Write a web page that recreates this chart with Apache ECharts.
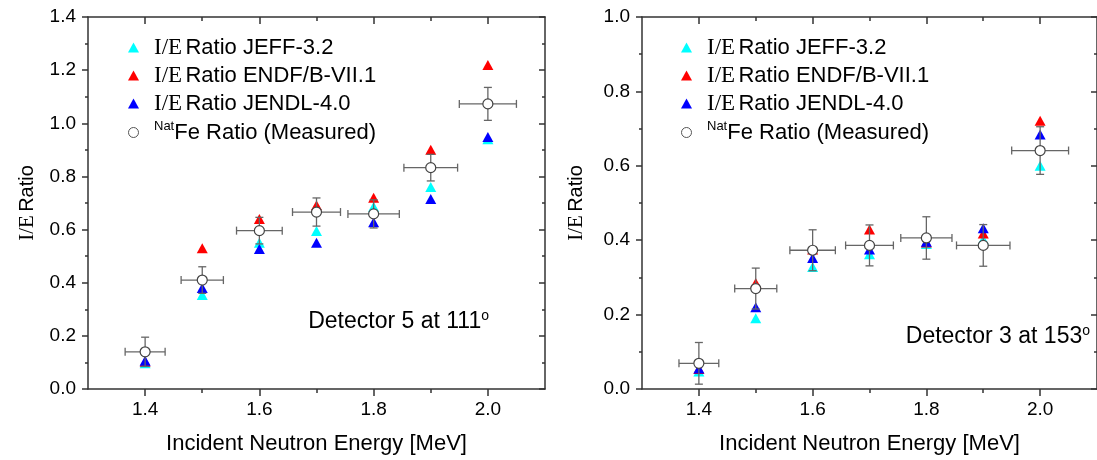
<!DOCTYPE html>
<html>
<head>
<meta charset="utf-8">
<script src="https://cdn.jsdelivr.net/npm/echarts@6/dist/echarts.min.js"></script>
<style>
  html, body { margin: 0; padding: 0; background: #fff; }
  #main { width: 1097px; height: 460px; }
</style>
</head>
<body>
<div id="main"></div>
<script>
var energy = [1.4, 1.5, 1.6, 1.7, 1.8, 1.9, 2.0];
var energyErr = [0.035, 0.037, 0.04, 0.042, 0.045, 0.047, 0.05];

// Detector 5 at 111
var det5Jeff = [0.097, 0.354, 0.55, 0.595, 0.686, 0.76, 0.94];
var det5Endf = [0.103, 0.53, 0.64, 0.692, 0.72, 0.90, 1.219];
var det5Jendl = [0.106, 0.38, 0.527, 0.55, 0.628, 0.715, 0.948];
var det5Meas = [0.14, 0.41, 0.596, 0.666, 0.659, 0.833, 1.073];
var det5MeasErr = [0.055, 0.05, 0.05, 0.053, 0.053, 0.05, 0.062];

// Detector 3 at 153
var det3Jeff = [0.047, 0.19, 0.328, 0.362, 0.39, 0.402, 0.60];
var det3Endf = [0.054, 0.285, 0.375, 0.429, 0.394, 0.418, 0.721];
var det3Jendl = [0.055, 0.22, 0.352, 0.375, 0.396, 0.432, 0.684];
var det3Meas = [0.069, 0.27, 0.373, 0.386, 0.406, 0.386, 0.641];
var det3MeasErr = [0.056, 0.055, 0.055, 0.055, 0.057, 0.056, 0.064];

var xMajor = [1.4, 1.6, 1.8, 2.0];
var xMinor = [1.5, 1.7, 1.9];

var SANS = 'Liberation Sans';
var SERIF = 'Liberation Serif';
var axisColor = '#333';

function pairs(xs, ys) {
  var out = [];
  for (var i = 0; i < xs.length; i++) out.push([xs[i], ys[i]]);
  return out;
}
function errRows(xs, ys, dxs, dys) {
  var out = [];
  for (var i = 0; i < xs.length; i++) out.push([xs[i], ys[i], dxs[i], dys[i]]);
  return out;
}

function renderErr(params, api) {
  var x = api.value(0), y = api.value(1), dx = api.value(2), dy = api.value(3);
  var l = api.coord([x - dx, y]);
  var r = api.coord([x + dx, y]);
  var t = api.coord([x, y + dy]);
  var b = api.coord([x, y - dy]);
  var cap = 4;
  var st = { stroke: '#666', lineWidth: 1.3 };
  return {
    type: 'group',
    children: [
      { type: 'line', shape: { x1: l[0], y1: l[1], x2: r[0], y2: r[1] }, style: st },
      { type: 'line', shape: { x1: t[0], y1: t[1], x2: b[0], y2: b[1] }, style: st },
      { type: 'line', shape: { x1: l[0], y1: l[1] - cap, x2: l[0], y2: l[1] + cap }, style: st },
      { type: 'line', shape: { x1: r[0], y1: r[1] - cap, x2: r[0], y2: r[1] + cap }, style: st },
      { type: 'line', shape: { x1: t[0] - cap, y1: t[1], x2: t[0] + cap, y2: t[1] }, style: st },
      { type: 'line', shape: { x1: b[0] - cap, y1: b[1], x2: b[0] + cap, y2: b[1] }, style: st }
    ]
  };
}

// x axes: bottom major/minor, top major/minor
function makeXAxes(grid) {
  var base = {
    gridIndex: grid, type: 'value', min: 1.3, max: 2.1,
    splitLine: { show: false },
    axisLine: { show: true, lineStyle: { color: axisColor, width: 1.5 } }
  };
  var list = [];
  list.push(Object.assign({}, base, {
    position: 'bottom',
    name: 'Incident Neutron Energy [MeV]',
    nameLocation: 'middle',
    nameGap: 44,
    nameTextStyle: { fontFamily: SANS, fontSize: 22, color: '#000' },
    axisTick: { show: true, length: 7, customValues: xMajor, lineStyle: { color: axisColor, width: 1.5 } },
    axisLabel: { show: true, margin: 11, customValues: xMajor, fontFamily: SANS, fontSize: 19, color: '#000',
      formatter: function (v) { return v.toFixed(1); } }
  }));
  list.push(Object.assign({}, base, {
    position: 'bottom',
    axisLine: { show: false },
    axisTick: { show: true, length: 4, customValues: xMinor, lineStyle: { color: axisColor, width: 1.5 } },
    axisLabel: { show: false }
  }));
  list.push(Object.assign({}, base, {
    position: 'top',
    axisTick: { show: true, inside: true, length: 7, customValues: xMajor, lineStyle: { color: axisColor, width: 1.5 } },
    axisLabel: { show: false }
  }));
  list.push(Object.assign({}, base, {
    position: 'top',
    axisLine: { show: false },
    axisTick: { show: true, inside: true, length: 4, customValues: xMinor, lineStyle: { color: axisColor, width: 1.5 } },
    axisLabel: { show: false }
  }));
  return list;
}

function makeYAxes(grid, max) {
  var base = {
    gridIndex: grid, type: 'value', min: 0, max: max, interval: 0.2,
    splitLine: { show: false },
    axisLine: { show: true, lineStyle: { color: axisColor, width: 1.5 } }
  };
  return [
    Object.assign({}, base, {
      position: 'left',
      name: '{s|I/E} {t|Ratio}',
      nameLocation: 'middle',
      nameGap: grid === 0 ? 50 : 55,
      nameTextStyle: {
        color: '#000',
        rich: {
          s: { fontFamily: SERIF, fontSize: 21, color: '#000' },
          t: { fontFamily: SANS, fontSize: 20, color: '#000' }
        }
      },
      axisTick: { show: true, length: 6, lineStyle: { color: axisColor, width: 1.5 } },
      minorTick: { show: true, splitNumber: 2, length: 3, lineStyle: { color: axisColor, width: 1.5 } },
      axisLabel: { show: true, margin: 12, fontFamily: SANS, fontSize: 19, color: '#000',
        formatter: function (v) { return v.toFixed(1); } }
    }),
    Object.assign({}, base, {
      position: 'right',
      axisTick: { show: true, inside: true, length: 6, lineStyle: { color: axisColor, width: 1.5 } },
      minorTick: { show: true, splitNumber: 2, length: 3, lineStyle: { color: axisColor, width: 1.5 } },
      axisLabel: { show: false }
    })
  ];
}

function makeSeries(grid, jeff, endf, jendl, meas, measErr) {
  var xi = grid * 4, yi = grid * 2;
  var tri = [11, 10];
  return [
    { name: 'JEFF-3.2', type: 'scatter', xAxisIndex: xi, yAxisIndex: yi, symbol: 'triangle', symbolSize: tri,
      itemStyle: { color: '#00ffff', opacity: 1 }, data: pairs(energy, jeff), z: 2 },
    { name: 'ENDF/B-VII.1', type: 'scatter', xAxisIndex: xi, yAxisIndex: yi, symbol: 'triangle', symbolSize: tri,
      itemStyle: { color: '#ff0000', opacity: 1 }, data: pairs(energy, endf), z: 2 },
    { name: 'JENDL-4.0', type: 'scatter', xAxisIndex: xi, yAxisIndex: yi, symbol: 'triangle', symbolSize: tri,
      itemStyle: { color: '#0000ff', opacity: 1 }, data: pairs(energy, jendl), z: 2 },
    { name: 'Measured', type: 'custom', xAxisIndex: xi, yAxisIndex: yi, renderItem: renderErr,
      encode: { x: 0, y: 1 }, data: errRows(energy, meas, energyErr, measErr), z: 3, silent: true },
    { name: 'Measured', type: 'scatter', xAxisIndex: xi, yAxisIndex: yi, symbol: 'circle', symbolSize: 10,
      itemStyle: { color: '#ffffff', borderColor: '#444', borderWidth: 1.2, opacity: 1 }, data: pairs(energy, meas), z: 4 }
  ];
}

function makeLegend(left) {
  return {
    orient: 'vertical',
    left: left,
    top: 31,
    itemWidth: 11,
    itemHeight: 10,
    itemGap: 5,
    selectedMode: false,
    textStyle: {
      padding: [0, 0, 0, 10],
      rich: {
        s: { fontFamily: SERIF, fontSize: 23, lineHeight: 23, color: '#000' },
        t: { fontFamily: SANS, fontSize: 22, lineHeight: 23, color: '#000' },
        sup: { fontFamily: SANS, fontSize: 13, lineHeight: 13, padding: [0, 0, 12, 0], color: '#000' }
      }
    },
    formatter: function (name) {
      if (name === 'Measured') return '{sup|Nat}{t|Fe Ratio (Measured)}';
      return '{s|I/E} {t|Ratio ' + name + '}';
    },
    data: [
      { name: 'JEFF-3.2', icon: 'triangle' },
      { name: 'ENDF/B-VII.1', icon: 'triangle' },
      { name: 'JENDL-4.0', icon: 'triangle' },
      { name: 'Measured', icon: 'circle', itemStyle: { color: '#fff', borderColor: '#555', borderWidth: 1 } }
    ]
  };
}

function note(x, y, txt) {
  return {
    type: 'text', x: x, y: y, z: 10,
    style: {
      text: txt + '{sup|o}',
      align: 'right', verticalAlign: 'middle',
      font: '23px ' + SANS, fill: '#000',
      rich: {
        sup: { fontFamily: SANS, fontSize: 14, lineHeight: 14, padding: [0, 0, 12, 0], fill: '#000' }
      }
    }
  };
}

var myChart = echarts.init(document.getElementById('main'), null, { renderer: 'canvas' });
var option = {
  backgroundColor: '#fff',
  animation: false,
  grid: [
    { left: 88, top: 17, width: 457, bottom: 71 },
    { left: 642, top: 17, right: -7, bottom: 71 }
  ],
  xAxis: makeXAxes(0).concat(makeXAxes(1)),
  yAxis: makeYAxes(0, 1.4).concat(makeYAxes(1, 1.0)),
  legend: [makeLegend(123), makeLegend(676)],
  graphic: [
    note(489, 322, 'Detector 5 at 111'),
    note(1090, 337, 'Detector 3 at 153')
  ],
  series: makeSeries(0, det5Jeff, det5Endf, det5Jendl, det5Meas, det5MeasErr)
    .concat(makeSeries(1, det3Jeff, det3Endf, det3Jendl, det3Meas, det3MeasErr))
};
myChart.setOption(option);
</script>
</body>
</html>
